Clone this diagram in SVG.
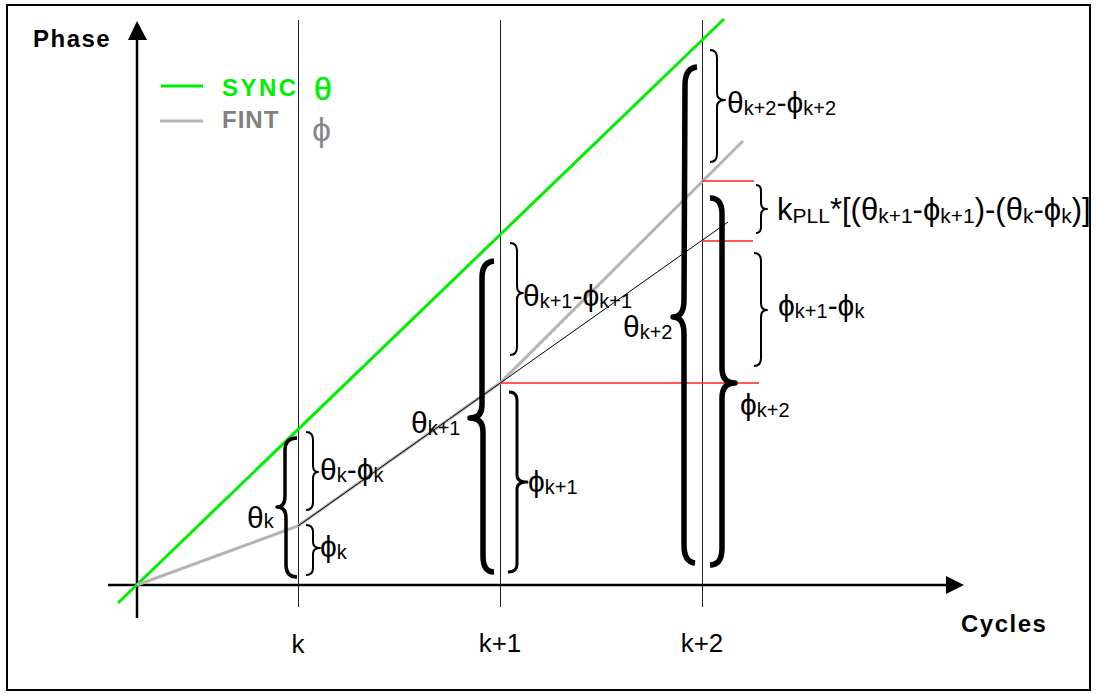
<svg xmlns="http://www.w3.org/2000/svg" width="1097" height="695" viewBox="0 0 1097 695">
<style>
text{font-family:"Liberation Sans","DejaVu Sans",Arial,sans-serif;fill:#000}
.b{font-weight:bold;font-size:24px;letter-spacing:1.5px}
.m{font-size:30px}
.s{font-size:20px}
.t{font-size:26px}
.br{fill:none;stroke:#000;stroke-linecap:butt;stroke-linejoin:round}
.thin{stroke-width:2}
.med{stroke-width:3.5}
.big{stroke-width:5.5}
.vl{stroke:#222;stroke-width:1}
.red{stroke:#ff2020;stroke-width:1.5}
</style>
<rect x="7" y="5" width="1083" height="685" fill="#fff" stroke="#000" stroke-width="2"/>
<g id="connectors">
<line class="vl" x1="298.5" y1="20" x2="298.5" y2="607"/>
<line class="vl" x1="500.5" y1="20" x2="500.5" y2="607"/>
<line class="vl" x1="702.5" y1="20" x2="702.5" y2="607"/>
<line x1="108" y1="585" x2="946" y2="585" stroke="#000" stroke-width="2.5"/>
<path d="M946,576L964,585L946,594z" fill="#000"/>
<line x1="137" y1="618" x2="137" y2="39" stroke="#000" stroke-width="2.5"/>
<path d="M128,40L137,21L147,40z" fill="#000"/>
<line x1="118" y1="603" x2="724" y2="19" stroke="#00ee00" stroke-width="3"/>
<polyline points="137,585 298,526 500,383 743,141" fill="none" stroke="#b4b4b4" stroke-width="3"/>
<line x1="298" y1="526" x2="728" y2="222" stroke="#000" stroke-width="1"/>
<line class="red" x1="500" y1="383" x2="759" y2="383"/>
<line class="red" x1="702" y1="181" x2="754" y2="181"/>
<line class="red" x1="702" y1="241" x2="753" y2="241"/>
</g>
<g id="legend">
<line x1="161" y1="86" x2="203" y2="86" stroke="#00ee00" stroke-width="3"/>
<line x1="160" y1="121" x2="203" y2="121" stroke="#b4b4b4" stroke-width="3"/>
<text class="b" x="222" y="96" style="fill:#00ee00;letter-spacing:2.5px">SYNC</text>
<text class="b" x="222" y="128" style="fill:#808080;letter-spacing:1px">FINT</text>
<text x="314" y="100" style="font-size:32px;fill:#00ee00;stroke:#00ee00;stroke-width:0.6">θ</text>
<text x="312" y="141" style="font-size:34px;fill:#888">ϕ</text>
</g>
<g id="axis-labels">
<text class="b" x="33" y="47">Phase</text>
<text class="b" x="961" y="632">Cycles</text>
<text class="t" x="298" y="653" text-anchor="middle">k</text>
<text class="t" x="500" y="652" text-anchor="middle">k+1</text>
<text class="t" x="702" y="652" text-anchor="middle">k+2</text>
</g>
<g id="brace-k">
<path class="br med" d="M297,438 Q285,438 285,450 L285,496 Q285,507 277,507 Q286,507 286,518 L286,565 Q286,577 297,577"/>
<path class="br thin" d="M306,432 Q313,432 313,440 L313,465 Q313,472 318,472 Q313,472 313,479 L313,502 Q313,510 306,510"/>
<path class="br thin" d="M306,525 Q313,525 313,532 L313,542 Q313,548 320,548 Q313,548 313,554 L313,568 Q313,575 306,575"/>
<text class="m" x="247" y="528">θ<tspan class="s">k</tspan></text>
<text class="m" x="320" y="480">θ<tspan class="s" dy="2">k</tspan><tspan dy="-2">-ϕ</tspan><tspan class="s" dy="2">k</tspan></text>
<text class="m" x="320" y="557">ϕ<tspan class="s" dy="2">k</tspan></text>
</g>
<g id="brace-k1">
<path class="br big" d="M494,261 Q482,262 482,278 L482,405 Q482,418 470,418 Q483,418 483,432 L483,556 Q483,572 494,572"/>
<path class="br thin" d="M510,243 Q517,243 517,251 L517,286 Q517,293 523,293 Q517,293 517,300 L517,347 Q517,355 510,355"/>
<path class="br" style="stroke-width:3" d="M509,392 Q517,392 517,400 L517,475 Q517,482 527,482 Q517,482 517,489 L517,564 Q517,572 508,572"/>
<text class="m" x="411" y="433">θ<tspan class="s" dy="2">k+1</tspan></text>
<text class="m" x="523" y="306">θ<tspan class="s" dy="2">k+1</tspan><tspan dy="-2">-ϕ</tspan><tspan class="s" dy="2">k+1</tspan></text>
<text class="m" x="528" y="492">ϕ<tspan class="s" dy="2">k+1</tspan></text>
</g>
<g id="brace-k2">
<path class="br big" d="M697,67 Q685,68 685,85 L684,300 Q684,317 673,317 Q684,317 684,334 L684,545 Q684,562 695,563"/>
<path class="br big" d="M710,198 Q722,198 722,214 L722,368 Q722,383 735,383 Q722,383 722,398 L722,548 Q722,565 710,565"/>
<path class="br thin" d="M710,50 Q717,50 717,58 L717,93 Q717,100 725,100 Q717,100 717,107 L717,154 Q717,162 710,162"/>
<path class="br thin" d="M756,185 Q761,185 761,191 L761,203 Q761,209 767,209 Q761,209 761,215 L761,227 Q761,233 756,233"/>
<path class="br thin" d="M754,253 Q761,253 761,261 L761,303 Q761,310 767,310 Q761,310 761,317 L761,358 Q761,366 754,366"/>
<text class="m" x="623" y="337">θ<tspan class="s" dy="2">k+2</tspan></text>
<text class="m" x="727" y="113">θ<tspan class="s" dy="2">k+2</tspan><tspan dy="-2">-ϕ</tspan><tspan class="s" dy="2">k+2</tspan></text>
<text x="777" y="220" style="font-size:31px">k<tspan style="font-size:21px" dy="3">PLL</tspan><tspan dy="-3">*[(θ</tspan><tspan style="font-size:21px" dy="3">k+1</tspan><tspan dy="-3">-ϕ</tspan><tspan style="font-size:21px" dy="3">k+1</tspan><tspan dy="-3">)-(θ</tspan><tspan style="font-size:21px" dy="3">k</tspan><tspan dy="-3">-ϕ</tspan><tspan style="font-size:21px" dy="3">k</tspan><tspan dy="-3">)]</tspan></text>
<text class="m" x="778" y="316">ϕ<tspan class="s" dy="2">k+1</tspan><tspan dy="-2">-ϕ</tspan><tspan class="s" dy="2">k</tspan></text>
<text class="m" x="740" y="415">ϕ<tspan class="s" dy="2">k+2</tspan></text>
</g>
</svg>
